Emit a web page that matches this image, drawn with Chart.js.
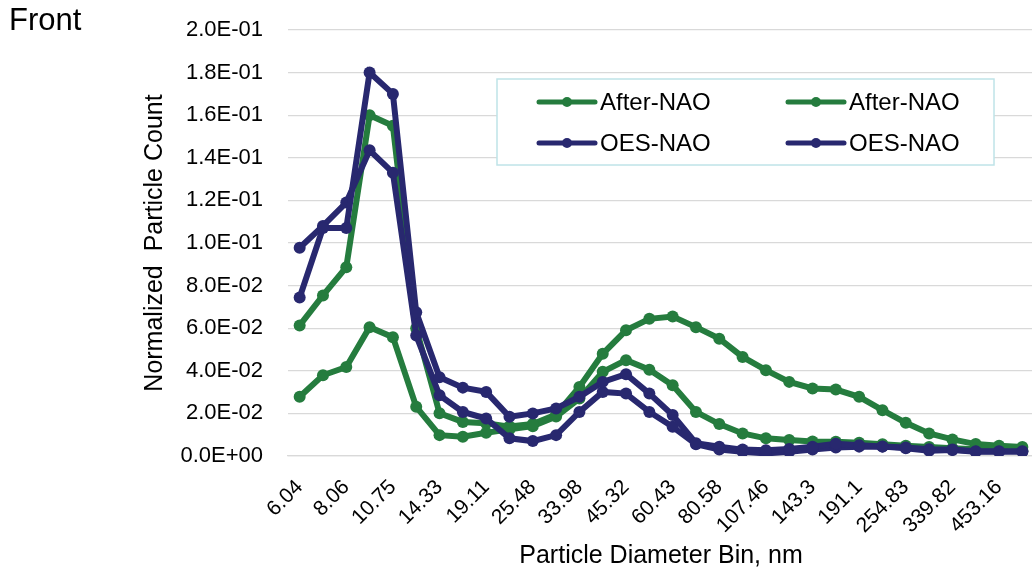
<!DOCTYPE html>
<html>
<head>
<meta charset="utf-8">
<title>Front - Normalized Particle Count</title>
<script src="https://cdn.jsdelivr.net/npm/chart.js@4.4.1/dist/chart.umd.min.js"></script>
<style>
    html, body { margin: 0; padding: 0; background: #fff; overflow: hidden; }
    #wrap { position: relative; width: 1032px; height: 573px; overflow: hidden; }
    #panelLabel { position: absolute; left: 9px; top: 2px; font: 31px 'Liberation Sans', Arial, sans-serif; color: #000; }
    canvas { position: absolute; left: 0; top: 0; }
</style>
</head>
<body>
<div id="wrap">
    <canvas id="myChart" width="1040" height="573"></canvas>
    <div id="panelLabel">Front</div>
</div>
<script>
// bin centres (only every second one is printed on the axis)
let binLabels = ['6.04', '6.98', '8.06', '9.31', '10.75', '12.41', '14.33', '16.55', '19.11', '22.07',
    '25.48', '29.43', '33.98', '39.24', '45.32', '52.33', '60.43', '69.78', '80.58', '93.05',
    '107.46', '124.09', '143.3', '165.48', '191.1', '220.67', '254.83', '294.27', '339.82', '392.41',
    '453.16', '523.29'];

let afterNao1 = [0.0613, 0.0754, 0.0886, 0.160, 0.155, 0.060, 0.0201, 0.0160, 0.0154, 0.0138,
    0.0150, 0.0195, 0.0324, 0.0480, 0.0590, 0.0644, 0.0655, 0.0605, 0.0551, 0.0465,
    0.0403, 0.0348, 0.0317, 0.0312, 0.0278, 0.0215, 0.0156, 0.0106, 0.0078, 0.0056,
    0.0048, 0.0042];

let afterNao2 = [0.0278, 0.0379, 0.0418, 0.0605, 0.0558, 0.0231, 0.0098, 0.0090, 0.0109, 0.0125,
    0.0140, 0.0185, 0.0270, 0.0395, 0.0450, 0.0405, 0.0332, 0.0207, 0.0150, 0.0106,
    0.0083, 0.0075, 0.0068, 0.0067, 0.0062, 0.0055, 0.0048, 0.0042, 0.0036, 0.0032,
    0.0028, 0.0025];

let oesNao1 = [0.0744, 0.1070, 0.1070, 0.180, 0.170, 0.0675, 0.0370, 0.0321, 0.0301, 0.0184,
    0.0200, 0.0223, 0.0278, 0.0348, 0.0384, 0.0293, 0.0192, 0.0060, 0.0044, 0.0030,
    0.0027, 0.0033, 0.0044, 0.0058, 0.0050, 0.0045, 0.0040, 0.0032, 0.0030, 0.0022,
    0.0022, 0.0020];

let oesNao2 = [0.0978, 0.1080, 0.1190, 0.1435, 0.133, 0.0566, 0.0285, 0.0207, 0.0176, 0.0083,
    0.0070, 0.0098, 0.0207, 0.0301, 0.0293, 0.0207, 0.0137, 0.0055, 0.0030, 0.0020,
    0.0012, 0.0020, 0.0030, 0.0040, 0.0044, 0.0044, 0.0036, 0.0025, 0.0028, 0.0020,
    0.0020, 0.0022];

const green = '#257C3E';
const navy = '#28286F';

Chart.defaults.font.family = "'Liberation Sans', Arial, sans-serif";
Chart.defaults.color = '#000';

function sciLabel(value) {
    let parts = Number(value).toExponential(1).split('e');
    let exp = parseInt(parts[1], 10);
    let sign = exp < 0 ? '-' : '+';
    let digits = String(Math.abs(exp)).padStart(2, '0');
    return parts[0] + 'E' + sign + digits;
}

// legend drawn as a boxed 2 x 2 grid, like the original
const boxLegend = {
    id: 'boxLegend',
    afterDraw(chart) {
        const ctx = chart.ctx;
        const box = { x: 497, y: 79, w: 497, h: 86 };
        ctx.save();
        ctx.fillStyle = '#fff';
        ctx.fillRect(box.x, box.y, box.w, box.h);
        ctx.strokeStyle = '#BFE3E8';
        ctx.lineWidth = 1.5;
        ctx.strokeRect(box.x, box.y, box.w, box.h);
        const cols = [539, 788];
        const rows = [102, 143];
        ctx.font = "24px 'Liberation Sans', Arial, sans-serif";
        ctx.textBaseline = 'middle';
        chart.data.datasets.forEach((ds, i) => {
            let x = cols[i % 2];
            let y = rows[Math.floor(i / 2)];
            ctx.strokeStyle = ds.borderColor;
            ctx.lineWidth = 5;
            ctx.lineCap = 'round';
            ctx.beginPath();
            ctx.moveTo(x, y);
            ctx.lineTo(x + 56, y);
            ctx.stroke();
            ctx.fillStyle = ds.borderColor;
            ctx.beginPath();
            ctx.arc(x + 28, y, 5, 0, Math.PI * 2);
            ctx.fill();
            ctx.fillStyle = '#000';
            ctx.fillText(ds.label, x + 61, y + 1);
        });
        ctx.restore();
    }
};

function makeSeries(label, data, color, order) {
    return {
        label: label,
        data: data,
        borderColor: color,
        backgroundColor: color,
        borderWidth: 6,
        pointRadius: 6,
        pointHoverRadius: 6,
        pointBorderWidth: 0,
        tension: 0,
        order: order
    };
}

const ctx = document.getElementById('myChart');
const myChart = new Chart(ctx, {
    type: 'line',
    data: {
        labels: binLabels,
        datasets: [
            makeSeries('After-NAO', afterNao1, green, 2),
            makeSeries('After-NAO', afterNao2, green, 2),
            makeSeries('OES-NAO', oesNao1, navy, 1),
            makeSeries('OES-NAO', oesNao2, navy, 1)
        ]
    },
    options: {
        responsive: false,
        animation: false,
        devicePixelRatio: 1,
        layout: { padding: { left: 0, top: 30, right: 4, bottom: 0 } },
        plugins: {
            legend: { display: false },
            tooltip: { enabled: false }
        },
        scales: {
            x: {
                type: 'category',
                offset: true,
                grid: { display: false },
                border: { display: true, color: '#D9D9D9', width: 1.3 },
                ticks: {
                    autoSkip: false,
                    maxRotation: 45,
                    minRotation: 45,
                    padding: 11,
                    font: { size: 21 },
                    callback: function (value, index) {
                        return index % 2 === 0 ? binLabels[index] : '';
                    }
                },
                title: {
                    display: true,
                    text: 'Particle Diameter Bin, nm',
                    font: { size: 25 },
                    padding: { top: 0, bottom: 2 }
                },
                afterFit: function (scale) {
                    scale.height = 117;
                    // plot area runs right to the edge like the original
                    scale.paddingLeft = 0;
                    scale.paddingRight = 0;
                }
            },
            y: {
                min: 0,
                max: 0.2,
                // invisible tick marks keep the labels away from the plot without padding the top
                grid: { color: '#D9D9D9', lineWidth: 1.3, drawTicks: true, tickLength: 25, tickColor: 'rgba(0,0,0,0)' },
                border: { display: false },
                ticks: {
                    stepSize: 0.02,
                    padding: 0,
                    font: { size: 22 },
                    callback: function (value) { return sciLabel(value); }
                },
                title: {
                    display: true,
                    text: 'Normalized  Particle Count',
                    font: { size: 25 },
                    padding: { top: 140, bottom: 0 }
                },
                afterFit: function (scale) { scale.width = 288; }
            }
        }
    },
    plugins: [boxLegend]
});
</script>
</body>
</html>
